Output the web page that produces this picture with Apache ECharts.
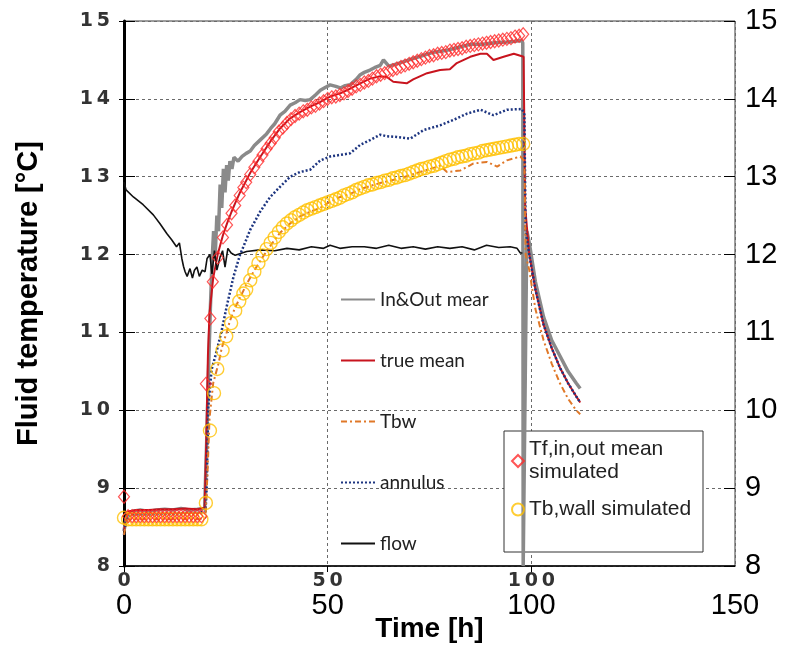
<!DOCTYPE html>
<html>
<head>
<meta charset="utf-8">
<script src="https://cdn.jsdelivr.net/npm/echarts@6.0.0/dist/echarts.min.js"></script>
<style>
  html, body { margin: 0; padding: 0; background: #fff; }
  #main { width: 798px; height: 648px; }
</style>
</head>
<body>
<div id="main"></div>
<script>
// [hour, °C]
const inoutMean = [
  [0, 8.45], [0.5, 8.6], [1, 8.68], [2, 8.7], [4, 8.72], [6, 8.7], [8, 8.72], [10, 8.73],
  [12, 8.72], [14, 8.74], [16, 8.72], [18, 8.73], [19.8, 8.74], [20.3, 9.6], [20.8, 10.6],
  [21.2, 11.3], [21.6, 11.9], [22, 12.3], [22.4, 12.0], [22.8, 12.5], [23.2, 12.3],
  [23.6, 12.9], [24, 12.6], [24.4, 13.1], [24.8, 12.8], [25.2, 13.15], [25.6, 12.95],
  [26, 13.2], [26.5, 13.1], [27, 13.25], [28, 13.2], [29, 13.26], [30, 13.3], [31, 13.33],
  [32, 13.4], [33.4, 13.47], [35, 13.55], [36, 13.62], [37, 13.68], [38.3, 13.79],
  [39.5, 13.84], [40.8, 13.92], [42, 13.95], [43.2, 13.99], [44.5, 13.98], [45.7, 13.99],
  [47, 14.05], [48.2, 14.11], [49.5, 14.15], [50.6, 14.18], [52, 14.16], [53.1, 14.14],
  [54.3, 14.17], [55.5, 14.18], [57, 14.25], [58, 14.31], [59, 14.34], [60.4, 14.37],
  [61.5, 14.4], [62.9, 14.43], [63.7, 14.5], [65, 14.42], [67, 14.45], [70, 14.5],
  [73, 14.55], [76, 14.6], [79, 14.62], [82, 14.66], [85, 14.7], [88, 14.7], [91, 14.72],
  [94, 14.73], [96, 14.74], [97.5, 14.75], [97.9, 14.72], [98.0, 8.0], [98.9, 12.3],
  [99.5, 12.15], [101, 11.65], [103, 11.2], [105, 10.9], [107, 10.7], [109, 10.5],
  [111, 10.35], [112, 10.28]
];

const trueMean = [
  [0, 8.45], [0.5, 8.62], [1, 8.7], [3, 8.72], [6, 8.72], [9, 8.73], [12, 8.73], [15, 8.74],
  [18, 8.73], [19.8, 8.75], [20.2, 9.6], [20.6, 10.7], [21.0, 11.25], [21.9, 11.7],
  [23, 12.0], [24.3, 12.25], [25.3, 12.4], [26.4, 12.55], [27.3, 12.66], [28.4, 12.79],
  [30, 12.95], [31, 13.05], [33.4, 13.25], [35.9, 13.45], [38.3, 13.62], [40.8, 13.75],
  [43.2, 13.83], [45.7, 13.9], [48.2, 13.96], [50.6, 14.03], [53.1, 14.07], [55.5, 14.13],
  [58, 14.2], [60.4, 14.26], [62.9, 14.29], [64.5, 14.28], [66.1, 14.22], [69.4, 14.2],
  [71, 14.25], [74.4, 14.33], [77.6, 14.37], [80, 14.38], [81.7, 14.46], [85, 14.54],
  [87.5, 14.58], [89.1, 14.58], [90.7, 14.5], [93.2, 14.54], [95.7, 14.58], [98.1, 14.54],
  [98.5, 12.6], [99.5, 12.0], [101, 11.55], [103, 11.1], [105, 10.8], [107, 10.55],
  [109, 10.35], [111, 10.18], [112, 10.1]
];

const tbw = [
  [0, 8.4], [0.5, 8.55], [1, 8.6], [3, 8.6], [6, 8.6], [9, 8.6], [12, 8.6], [15, 8.6],
  [18, 8.6], [20, 8.62], [20.5, 9.2], [21, 9.9], [21.9, 10.35], [23.2, 10.6], [24, 10.8],
  [25.2, 11.0], [26, 11.15], [27.3, 11.32], [28.5, 11.45], [30.1, 11.62], [31.8, 11.78],
  [34.2, 11.98], [36.7, 12.17], [38.3, 12.28], [40.8, 12.4], [43.2, 12.49], [45.7, 12.55],
  [48.2, 12.6], [50.6, 12.68], [53.1, 12.74], [55.5, 12.78], [58, 12.84], [60.4, 12.88],
  [62.9, 12.92], [67.8, 12.98], [72.7, 13.06], [77.6, 13.14], [79.3, 13.06], [82.6, 13.08],
  [85.8, 13.17], [89.1, 13.19], [91.6, 13.13], [94, 13.21], [97.3, 13.26], [98.3, 13.2],
  [98.6, 12.0], [99.5, 11.8], [101, 11.3], [103, 10.9], [105, 10.6], [107, 10.35],
  [109, 10.15], [111, 10.0], [112, 9.95]
];

const annulus = [
  [0, 8.4], [0.5, 8.58], [1, 8.64], [3, 8.66], [6, 8.66], [9, 8.67], [12, 8.67], [15, 8.68],
  [18, 8.68], [20, 8.7], [20.3, 9.0], [20.7, 10.05], [21.5, 10.52], [22.8, 10.77],
  [24, 11.03], [25.2, 11.33], [26.9, 11.72], [28.5, 12.0], [29.3, 12.1], [31, 12.32],
  [32.6, 12.47], [33.4, 12.55], [35.9, 12.74], [38.3, 12.87], [40.8, 13.0], [43.2, 13.06],
  [45.7, 13.09], [48.2, 13.21], [50.6, 13.26], [53.1, 13.28], [55.5, 13.3], [58, 13.41],
  [60.4, 13.47], [62.9, 13.54], [64.5, 13.52], [67, 13.51], [70.3, 13.49], [73.6, 13.6],
  [77.6, 13.66], [80.9, 13.73], [84.2, 13.81], [87.5, 13.86], [90.7, 13.79], [94, 13.86],
  [97.7, 13.87], [98.3, 13.8], [98.6, 12.3], [99.5, 12.0], [101, 11.55], [103, 11.1],
  [105, 10.8], [107, 10.55], [109, 10.35], [111, 10.18], [112, 10.1]
];

const flow = [
  [0, 12.93], [0.5, 12.83], [2.3, 12.74], [4.7, 12.64], [7.2, 12.51], [8.8, 12.4],
  [10.5, 12.27], [11.7, 12.19], [12.9, 12.1], [13.6, 12.15], [14.2, 11.95], [14.6, 11.85],
  [15.0, 11.78], [15.5, 11.72], [16.2, 11.82], [16.8, 11.7], [17.3, 11.8], [17.9, 11.84],
  [18.5, 11.72], [19.2, 11.8], [19.9, 11.78], [20.4, 11.95], [21.1, 12.0], [21.6, 11.75],
  [22.2, 12.05], [22.8, 11.8], [23.6, 11.97], [24.2, 12.05], [24.8, 11.84], [25.5, 12.08],
  [26.3, 12.02], [27.3, 11.99], [30.1, 12.04], [33.4, 12.06], [37, 12.05], [40, 12.08],
  [43, 12.06], [46, 12.1], [49, 12.08], [50.6, 12.12], [53, 12.08], [56, 12.1], [59, 12.1],
  [62, 12.08], [65, 12.12], [68, 12.08], [71, 12.1], [74, 12.07], [77, 12.1], [80, 12.08],
  [83, 12.1], [86, 12.06], [89, 12.12], [92, 12.09], [94.8, 12.1], [96.5, 12.08],
  [97.3, 12.02], [97.8, 12.02]
];

const tfSimulated = [
  [0, 8.89], [1, 8.64], [2, 8.64], [3, 8.64], [4, 8.64], [5, 8.64], [6, 8.64], [7, 8.64],
  [8, 8.64], [9, 8.64], [10, 8.64], [11, 8.64], [12, 8.64], [13, 8.64], [14, 8.64],
  [15, 8.64], [16, 8.64], [17, 8.64], [18, 8.64], [19, 8.64], [20.1, 10.34], [21.2, 11.18],
  [21.8, 11.65], [23.0, 11.96], [24.3, 12.22], [25.3, 12.38], [26.4, 12.53], [27.3, 12.63],
  [28.4, 12.76], [29.3, 12.86], [30, 12.93], [31, 13.03], [32, 13.12], [33, 13.2],
  [34, 13.28], [35, 13.36], [36, 13.43], [37, 13.5], [38, 13.58], [39, 13.63], [40, 13.69],
  [41, 13.74], [42, 13.78], [43, 13.81], [44, 13.84], [45, 13.86], [46, 13.89], [47, 13.91],
  [48, 13.94], [49, 13.97], [50, 14.0], [51, 14.02], [52, 14.03], [53, 14.05], [54, 14.07],
  [55, 14.1], [56, 14.13], [57, 14.16], [58, 14.18], [59, 14.21], [60, 14.23], [61, 14.26],
  [62, 14.29], [63, 14.31], [64, 14.33], [65, 14.35], [66, 14.37], [67, 14.39], [68, 14.41],
  [69, 14.43], [70, 14.45], [71, 14.47], [72, 14.49], [73, 14.51], [74, 14.53], [75, 14.55],
  [76, 14.56], [77, 14.58], [78, 14.59], [79, 14.6], [80, 14.62], [81, 14.63], [82, 14.64],
  [83, 14.65], [84, 14.67], [85, 14.68], [86, 14.69], [87, 14.7], [88, 14.71], [89, 14.72],
  [90, 14.73], [91, 14.74], [92, 14.75], [93, 14.76], [94, 14.77], [95, 14.78], [96, 14.8],
  [97, 14.81], [98, 14.83]
];

const tbSimulated = [
  [0, 8.62], [1, 8.6], [2, 8.6], [3, 8.6], [4, 8.6], [5, 8.6], [6, 8.6], [7, 8.6], [8, 8.6],
  [9, 8.6], [10, 8.6], [11, 8.6], [12, 8.6], [13, 8.6], [14, 8.6], [15, 8.6], [16, 8.6],
  [17, 8.6], [18, 8.6], [19, 8.6], [20.1, 8.81], [21.1, 9.74], [22.1, 10.22], [22.9, 10.53],
  [24.2, 10.77], [25.1, 10.95], [26.3, 11.12], [27.3, 11.28], [28.3, 11.4], [29.3, 11.5],
  [30, 11.55], [31, 11.67], [32, 11.78], [33, 11.89], [34, 11.99], [35, 12.07], [36, 12.15],
  [37, 12.22], [38, 12.29], [39, 12.35], [40, 12.4], [41, 12.44], [42, 12.48], [43, 12.51],
  [44, 12.54], [45, 12.57], [46, 12.59], [47, 12.61], [48, 12.63], [49, 12.65], [50, 12.67],
  [51, 12.69], [52, 12.71], [53, 12.73], [54, 12.76], [55, 12.78], [56, 12.8], [57, 12.83],
  [58, 12.85], [59, 12.87], [60, 12.89], [61, 12.9], [62, 12.92], [63, 12.93], [64, 12.95],
  [65, 12.96], [66, 12.98], [67, 12.99], [68, 13.01], [69, 13.02], [70, 13.04], [71, 13.06],
  [72, 13.08], [73, 13.1], [74, 13.11], [75, 13.13], [76, 13.14], [77, 13.16], [78, 13.18],
  [79, 13.2], [80, 13.22], [81, 13.23], [82, 13.25], [83, 13.26], [84, 13.27], [85, 13.29],
  [86, 13.3], [87, 13.31], [88, 13.33], [89, 13.34], [90, 13.35], [91, 13.36], [92, 13.37],
  [93, 13.38], [94, 13.39], [95, 13.4], [96, 13.41], [97, 13.42], [98, 13.42]
];

const lineNames = ["In&Out mear", "true mean", "Tbw", "annulus", "flow"];
const simNames = ["Tf,in,out mean\nsimulated", "Tb,wall simulated"];

const chart = echarts.init(document.getElementById("main"));

const gridDash = { type: [3, 3], color: "#6a6a6a", width: 1 };
// the wide bold tick labels of the original: space the digits out a little
const wideDigits = (v) => String(v).split("").join("\u2009");

const option = {
  animation: false,
  backgroundColor: "#fff",
  grid: {
    left: 124,
    right: 63,
    top: 21,
    bottom: 82,
    outerBoundsMode: "none",
    show: true,
    borderColor: "#3a3a3a",
    borderWidth: 1,
  },
  graphic: [
    {
      type: "rect",
      z: 1,
      shape: { x: 504, y: 431, width: 199, height: 121 },
      style: { fill: "#fff", stroke: "#333", lineWidth: 1 },
    },
  ],
  legend: [
    {
      data: lineNames,
      orient: "vertical",
      left: 340,
      top: 290,
      padding: 0,
      itemGap: 42,
      itemWidth: 34,
      itemHeight: 14,
      itemStyle: { opacity: 0 },
      textStyle: { fontFamily: "Lato", fontSize: 19, color: "#222" },
    },
    {
      data: simNames,
      orient: "vertical",
      left: 511,
      top: 438,
      padding: 0,
      itemGap: 14,
      itemWidth: 12,
      itemHeight: 12,
      textStyle: {
        fontFamily: "Liberation Sans",
        fontSize: 21,
        lineHeight: 23,
        color: "#222",
      },
    },
  ],
  xAxis: [
    {
      type: "value",
      min: 0,
      max: 150,
      interval: 50,
      axisLine: { lineStyle: { color: "#000", width: 1.5 } },
      axisTick: { length: 6, lineStyle: { color: "#000" } },
      axisLabel: {
        margin: 6,
        showMaxLabel: false,
        formatter: wideDigits,
        fontFamily: "DejaVu Sans",
        fontWeight: "bold",
        fontSize: 19,
        color: "#333",
      },
      splitLine: { show: true, lineStyle: gridDash },
    },
    {
      type: "value",
      min: 0,
      max: 150,
      interval: 50,
      position: "bottom",
      offset: 21,
      axisLine: { show: false },
      axisTick: { show: false },
      splitLine: { show: false },
      axisLabel: {
        margin: 4,
        fontFamily: "Liberation Sans",
        fontSize: 29,
        color: "#000",
      },
      name: "Time [h]",
      nameLocation: "middle",
      nameGap: 28,
      nameMoveOverlap: false,
      nameTextStyle: {
        fontFamily: "Liberation Sans",
        fontWeight: "bold",
        fontSize: 28,
        color: "#000",
      },
    },
  ],
  yAxis: [
    {
      type: "value",
      min: 8,
      max: 15,
      interval: 1,
      axisLine: { show: true, lineStyle: { color: "#000", width: 3 } },
      axisTick: { show: true, length: 5, lineStyle: { color: "#000" } },
      axisLabel: {
        margin: 14,
        formatter: wideDigits,
        fontFamily: "DejaVu Sans",
        fontWeight: "bold",
        fontSize: 19,
        color: "#333",
      },
      splitLine: { show: true, lineStyle: gridDash },
      name: "Fluid temperature [°C]",
      nameLocation: "middle",
      nameRotate: 90,
      nameGap: 81,
      nameTextStyle: {
        fontFamily: "Liberation Sans",
        fontWeight: "bold",
        fontSize: 29,
        color: "#000",
      },
    },
    {
      type: "value",
      position: "right",
      min: 8,
      max: 15,
      interval: 1,
      axisLine: { show: true, lineStyle: { color: "#000", width: 1 } },
      axisTick: { show: true, length: 11, lineStyle: { color: "#000" } },
      axisLabel: {
        margin: 10,
        fontFamily: "Liberation Sans",
        fontSize: 29,
        color: "#000",
      },
      splitLine: { show: false },
    },
    {
      type: "value",
      position: "right",
      min: 8,
      max: 15,
      interval: 1,
      axisLine: { show: false },
      axisTick: { show: true, inside: true, length: 11, lineStyle: { color: "#000" } },
      axisLabel: { show: false },
      splitLine: { show: false },
    },
  ],
  series: [
    {
      name: "In&Out mear",
      type: "line",
      data: inoutMean,
      symbol: "none",
      lineStyle: { color: "#8a8a8a", width: 3.5 },
      itemStyle: { color: "#8a8a8a" },
      z: 2,
    },
    {
      name: "true mean",
      type: "line",
      data: trueMean,
      symbol: "none",
      lineStyle: { color: "#c8141e", width: 2 },
      itemStyle: { color: "#c8141e" },
      z: 3,
    },
    {
      name: "flow",
      type: "line",
      data: flow,
      symbol: "none",
      lineStyle: { color: "#111", width: 1.6 },
      itemStyle: { color: "#111" },
      z: 3,
    },
    {
      name: "annulus",
      type: "line",
      data: annulus,
      symbol: "none",
      lineStyle: { color: "#1d3580", width: 2.5, type: [2, 2] },
      itemStyle: { color: "#1d3580" },
      z: 3,
    },
    {
      name: "Tbw",
      type: "line",
      data: tbw,
      symbol: "none",
      lineStyle: { color: "#e07828", width: 2, type: [6, 3, 2, 3] },
      itemStyle: { color: "#e07828" },
      z: 3,
    },
    {
      name: "Tb,wall simulated",
      type: "scatter",
      data: tbSimulated,
      symbol: "circle",
      symbolSize: 13,
      itemStyle: {
        color: "rgba(255,255,255,0)",
        borderColor: "#ffc000",
        borderWidth: 1.4,
      },
      z: 4,
    },
    {
      name: "Tf,in,out mean\nsimulated",
      type: "scatter",
      data: tfSimulated,
      symbol: "diamond",
      symbolSize: [11, 13],
      itemStyle: {
        color: "rgba(255,255,255,0)",
        borderColor: "#ff2a2a",
        borderWidth: 1.2,
      },
      z: 5,
    },
  ],
};

chart.setOption(option);
</script>
</body>
</html>
